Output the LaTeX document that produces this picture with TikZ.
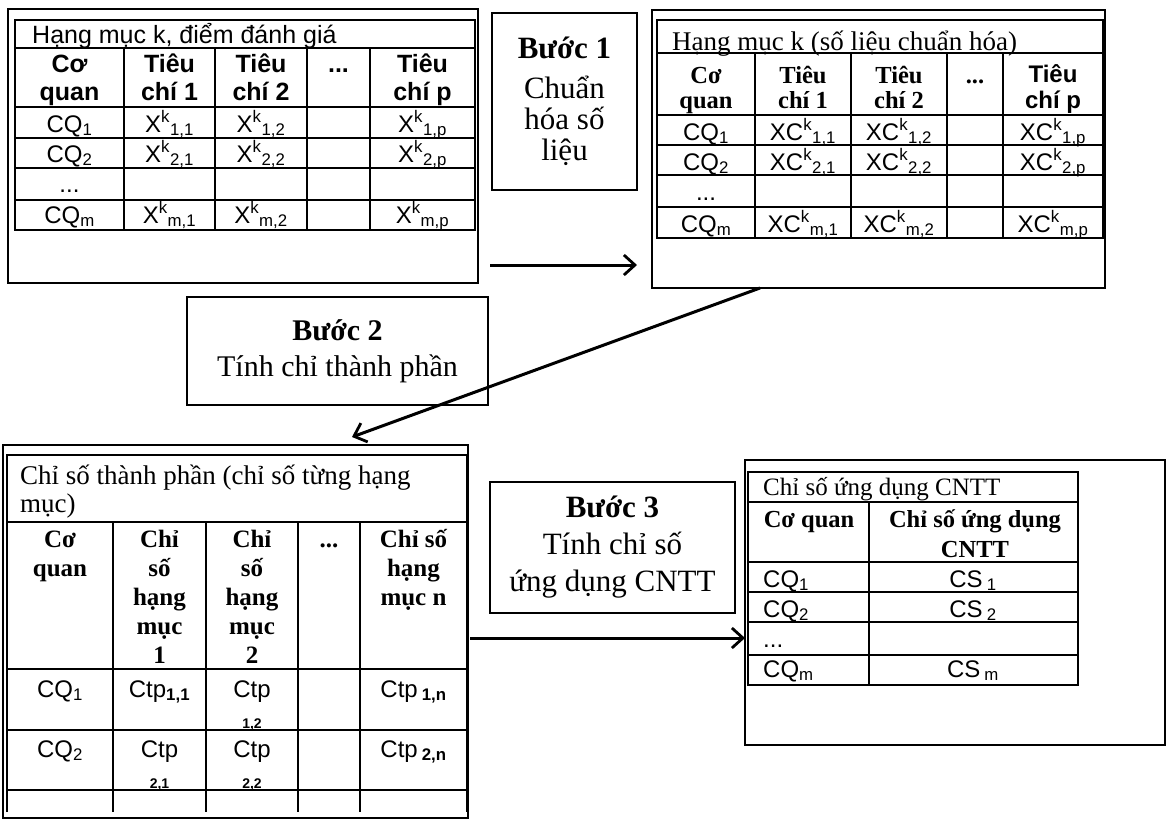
\documentclass[tikz,border=0pt]{standalone}
\usepackage{fontspec}
\setmainfont{Liberation Serif}
\setsansfont{Liberation Sans}
\usetikzlibrary{arrows.meta}
\newcommand\xk[2]{#1\textsuperscript{k}\textsubscript{#2}}
\tikzset{
  >={Straight Barb[length=11pt,width=20pt,line width=2.8pt]},
  frame/.style={draw,line width=1.2pt,inner sep=0pt,outer sep=0pt,anchor=north west},
  tline/.style={line width=1.1pt},
  ttl/.style={anchor=base west,inner sep=0pt,align=left,font=\rmfamily\fontsize{27}{28}\selectfont},
  ttlA/.style={ttl,font=\sffamily\fontsize{25}{28}\selectfont},
  hdA/.style={anchor=base,inner sep=0pt,align=center,font=\sffamily\bfseries\fontsize{25}{28}\selectfont},
  hdB/.style={hdA,font=\rmfamily\bfseries\fontsize{24.5}{25}\selectfont},
  hdC/.style={hdA,font=\rmfamily\bfseries\fontsize{25}{29}\selectfont},
  hdD/.style={hdA,font=\rmfamily\bfseries\fontsize{24.5}{30}\selectfont},
  val/.style={anchor=base,inner sep=0pt,font=\sffamily\fontsize{24}{28}\selectfont},
  tiny/.style={val,font=\sffamily\bfseries\fontsize{14}{16}\selectfont},
  stepbox/.style={draw,line width=1.2pt,inner sep=0pt,outer sep=0pt,align=center,font=\rmfamily\fontsize{30}{36}\selectfont},
  arr/.style={->,line width=3pt},
}
\begin{document}
\begin{tikzpicture}[x=1pt,y=-1pt]
\useasboundingbox (0,0) rectangle (1168,820);

% diem danh gia
\node[frame,minimum width=470pt,minimum height=274pt] (outA) at (8,9) {};
\draw[tline] (15,20) rectangle (475,230);
\foreach \y in {48,107,138,168,200} \draw[tline] (15,\y) -- (475,\y);
\foreach \x in {124,215,307,370} \draw[tline] (\x,48) -- (\x,230);
\node[ttlA] (a-t) at (32,43) {Hạng mục k, điểm đánh giá};
% base anchor = last line
\foreach \x/\y/\t [count=\i] in {69.5/100/{Cơ\\quan},169.5/100/{Tiêu\\chí 1},261/100/{Tiêu\\chí 2},338.5/72/{...},422.5/100/{Tiêu\\chí p}}
  \node[hdA] (a-h\i) at (\x,\y) {\t};
\foreach \y/\r in {132/1,162/2,223/m} {
  \node[val] (a-\r0) at (69.5,\y) {CQ\textsubscript{\r}};
  \node[val] (a-\r1) at (169.5,\y) {\xk{X}{\r,1}};
  \node[val] (a-\r2) at (261,\y) {\xk{X}{\r,2}};
  \node[val] (a-\r5) at (422.5,\y) {\xk{X}{\r,p}};
}
\node[val] (a-d) at (69.5,192) {...};

% so lieu chuan hoa
\node[frame,minimum width=453pt,minimum height=278pt] (outB) at (652,10) {};
\draw[tline] (657,20) rectangle (1103,238);
\foreach \y in {53,115,145,175,207} \draw[tline] (657,\y) -- (1103,\y);
\foreach \x in {755,851,947,1003} \draw[tline] (\x,53) -- (\x,238);
\node[ttl] (b-t) at (672,50) {Hạng mục k (số liệu chuẩn hóa)};
\foreach \x/\y/\t [count=\i] in {706/108/{Cơ\\quan},803/108/{Tiêu\\chí 1},899/108/{Tiêu\\chí 2},975/83/{...}}
  \node[hdB] (b-h\i) at (\x,\y) {\t};
\node[hdA,font=\sffamily\bfseries\fontsize{24}{26}\selectfont] (b-h5) at (1053,108) {Tiêu\\chí p};
\foreach \y/\r in {140/1,170/2,232/m} {
  \node[val] (b-\r0) at (706,\y) {CQ\textsubscript{\r}};
  \node[val] (b-\r1) at (803,\y) {\xk{XC}{\r,1}};
  \node[val] (b-\r2) at (899,\y) {\xk{XC}{\r,2}};
  \node[val] (b-\r5) at (1053,\y) {\xk{XC}{\r,p}};
}
\node[val] (b-d) at (706,200) {...};

% chi so thanh phan
\node[frame,minimum width=465pt,minimum height=373pt] (outC) at (3,445) {};
\draw[tline] (7,812) -- (7,455) -- (467,455) -- (467,812);
\foreach \y in {522,669,730,790} \draw[tline] (7,\y) -- (467,\y);
\foreach \x in {113,206,298,360} \draw[tline] (\x,522) -- (\x,812);
\node[ttl] (c-t) at (20,512) {Chỉ số thành phần (chỉ số từng hạng\\mục)};
\foreach \x/\y/\t [count=\i] in {60/576/{Cơ\\quan},159.5/663/{Chỉ\\số\\hạng\\mục\\1},252/663/{Chỉ\\số\\hạng\\mục\\2},329/547/{...},413.5/605/{Chỉ số\\hạng\\mục n}}
  \node[hdC] (c-h\i) at (\x,\y) {\t};
\node[val] (c-10) at (60,697) {CQ\textsubscript{1}};
\node[val] (c-11) at (159.5,697) {Ctp\textsubscript{\textbf{1,1}}};
\node[val] (c-12) at (252,697) {Ctp};
\node[tiny] (c-12s) at (252,728) {1,2};
\node[val] (c-15) at (413.5,697) {Ctp\,\textsubscript{\textbf{1,n}}};
\node[val] (c-20) at (60,757) {CQ\textsubscript{2}};
\node[val] (c-21) at (159.5,757) {Ctp};
\node[tiny] (c-21s) at (159.5,788) {2,1};
\node[val] (c-22) at (252,757) {Ctp};
\node[tiny] (c-22s) at (252,788) {2,2};
\node[val] (c-25) at (413.5,757) {Ctp\,\textsubscript{\textbf{2,n}}};

% chi so ung dung CNTT
\node[frame,minimum width=420pt,minimum height=285pt] (outD) at (745,460) {};
\draw[tline] (748,472) rectangle (1078,685);
\foreach \y in {502,562,592,622,655} \draw[tline] (748,\y) -- (1078,\y);
\draw[tline] (869,502) -- (869,685);
\node[ttl,font=\rmfamily\fontsize{25}{28}\selectfont] (d-t) at (763,495) {Chỉ số ứng dụng CNTT};
\node[hdD] (d-h1) at (809,527) {Cơ quan};
\node[hdD] (d-h2) at (975,557) {Chỉ số ứng dụng\\CNTT};
\foreach \y/\r in {587/1,617/2,677/m} {
  \node[val,anchor=base west] (d-\r0) at (763,\y) {CQ\textsubscript{\r}};
  \node[val] (d-\r1) at (973,\y) {CS\,\textsubscript{\r}};
}
\node[val,anchor=base west] (d-d) at (763,647) {...};

% cac buoc
\node[stepbox,minimum width=145pt,minimum height=177pt,font=\rmfamily\fontsize{31}{31}\selectfont] (stepA) at (564.5,101.5) {\textbf{Bước 1}\\[9pt]Chuẩn\\hóa số\\liệu};
\node[stepbox,minimum width=301pt,minimum height=108pt] (stepB) at (337.5,351) {\textbf{Bước 2}\\Tính chỉ thành phần};
\node[stepbox,minimum width=245pt,minimum height=131pt,font=\rmfamily\fontsize{31}{37}\selectfont] (stepC) at (612.5,547.5) {\textbf{Bước 3}\\Tính chỉ số\\ứng dụng CNTT};

\draw[arr] ([shift={(12,-18)}]outA.south east) -- ([shift={(-15,-23)}]outB.south west);
\draw[arr] ([shift={(108,0)}]outB.south west) -- ([shift={(349,-8)}]outC.north west);
\draw[arr] ([shift={(2,6.5)}]outC.east) -- ([shift={(0,35.5)}]outD.west);
\end{tikzpicture}
\end{document}
